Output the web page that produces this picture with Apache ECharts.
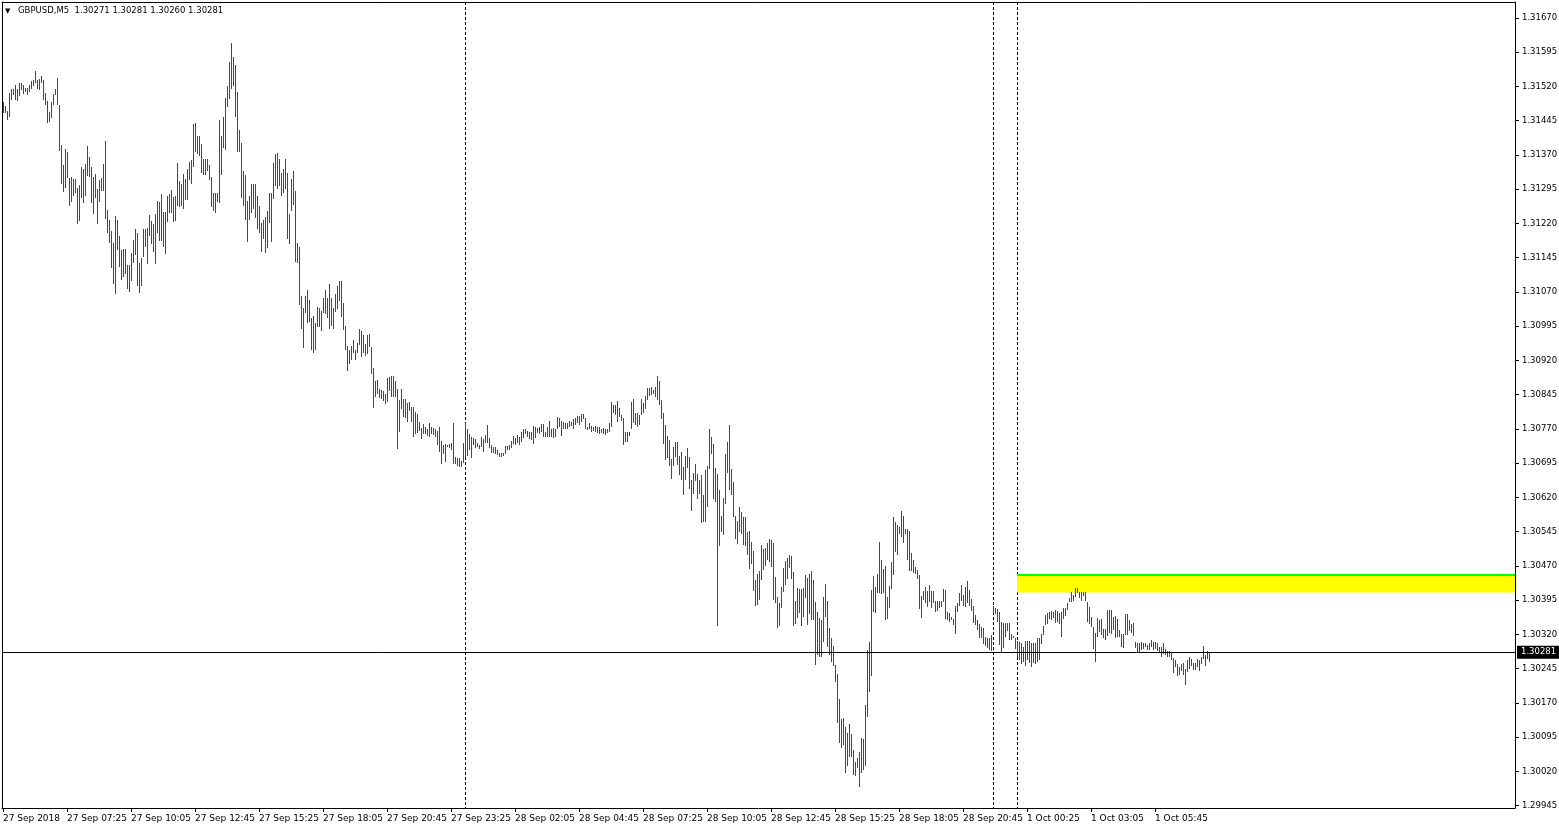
<!DOCTYPE html>
<html>
<head>
<meta charset="utf-8">
<style>
html,body{margin:0;padding:0;background:#fff;}
#chart{width:1559px;height:829px;}
</style>
<script src="https://cdn.jsdelivr.net/npm/echarts@6/dist/echarts.min.js"></script>
</head>
<body>
<div id="chart"></div>
<script>
// ---- data (GBPUSD M5, bar highs and lows) ----
const symbolName = 'GBPUSD,M5';
const lastOHLC = [1.30271, 1.30281, 1.30260, 1.30281];
const bidPrice = 1.30281;

const highs = [
1.31485,1.31477,1.31467,1.31506,1.31515,1.31515,1.31523,1.31514,1.31528,1.31528,1.31523,1.31517,1.31517,1.31523,1.31533,1.31534,
1.31554,1.31534,1.31536,1.31544,1.31534,1.31506,1.31489,1.31465,1.31487,1.31504,1.31515,1.31539,1.31479,1.31392,1.31347,1.31383,
1.31377,1.31320,1.31322,1.31317,1.31317,1.31298,1.31304,1.31344,1.31339,1.31350,1.31390,1.31366,1.31344,1.31321,1.31328,1.31296,
1.31315,1.31319,1.31350,1.31401,1.31250,1.31228,1.31204,1.31178,1.31236,1.31228,1.31193,1.31163,1.31164,1.31164,1.31129,1.31129,
1.31156,1.31184,1.31208,1.31200,1.31134,1.31144,1.31208,1.31209,1.31211,1.31239,1.31225,1.31219,1.31241,1.31269,1.31268,1.31285,
1.31245,1.31246,1.31281,1.31285,1.31293,1.31279,1.31281,1.31353,1.31314,1.31306,1.31328,1.31317,1.31339,1.31355,1.31358,1.31437,
1.31441,1.31412,1.31412,1.31394,1.31361,1.31361,1.31361,1.31348,1.31321,1.31287,1.31286,1.31287,1.31447,1.31412,1.31454,1.31494,
1.31522,1.31574,1.31616,1.31585,1.31566,1.31507,1.31425,1.31397,1.31335,1.31326,1.31269,1.31281,1.31306,1.31306,1.31306,1.31281,
1.31258,1.31222,1.31228,1.31235,1.31247,1.31287,1.31287,1.31353,1.31372,1.31374,1.31361,1.31331,1.31339,1.31361,1.31330,1.31241,
1.31317,1.31336,1.31292,1.31178,1.31169,1.31062,1.31034,1.31062,1.31074,1.31052,1.31014,1.31017,1.31001,1.31038,1.31034,1.31029,
1.31057,1.31074,1.31057,1.31087,1.31057,1.31036,1.31066,1.31082,1.31094,1.31094,1.31045,1.30996,1.30952,1.30943,1.30952,1.30964,
1.30944,1.30959,1.30988,1.30985,1.30976,1.30956,1.30976,1.30978,1.30949,1.30903,1.30875,1.30877,1.30857,1.30855,1.30853,1.30847,
1.30881,1.30883,1.30886,1.30886,1.30875,1.30857,1.30833,1.30857,1.30836,1.30836,1.30826,1.30828,1.30819,1.30819,1.30807,1.30803,
1.30786,1.30773,1.30781,1.30775,1.30771,1.30784,1.30775,1.30773,1.30770,1.30766,1.30775,1.30744,1.30736,1.30737,1.30736,1.30737,
1.30739,1.30784,1.30709,1.30706,1.30707,1.30700,1.30740,1.30782,1.30770,1.30758,1.30753,1.30750,1.30747,1.30739,1.30736,1.30752,
1.30747,1.30757,1.30779,1.30750,1.30736,1.30730,1.30731,1.30725,1.30718,1.30717,1.30718,1.30733,1.30733,1.30735,1.30744,1.30755,
1.30750,1.30757,1.30753,1.30764,1.30769,1.30771,1.30766,1.30764,1.30764,1.30777,1.30775,1.30773,1.30775,1.30780,1.30780,1.30764,
1.30775,1.30787,1.30771,1.30773,1.30769,1.30797,1.30793,1.30788,1.30786,1.30782,1.30782,1.30788,1.30786,1.30791,1.30793,1.30798,
1.30798,1.30802,1.30803,1.30793,1.30775,1.30782,1.30777,1.30775,1.30777,1.30775,1.30774,1.30771,1.30773,1.30769,1.30771,1.30782,
1.30828,1.30823,1.30823,1.30832,1.30815,1.30801,1.30793,1.30764,1.30764,1.30764,1.30828,1.30835,1.30804,1.30804,1.30801,1.30835,
1.30827,1.30842,1.30859,1.30859,1.30863,1.30855,1.30863,1.30886,1.30876,1.30833,1.30806,1.30779,1.30755,1.30746,1.30704,1.30730,
1.30742,1.30742,1.30711,1.30720,1.30687,1.30711,1.30728,1.30708,1.30658,1.30673,1.30693,1.30671,1.30658,1.30669,1.30625,1.30680,
1.30689,1.30769,1.30753,1.30737,1.30685,1.30671,1.30636,1.30579,1.30619,1.30715,1.30742,1.30779,1.30682,1.30653,1.30580,1.30569,
1.30600,1.30589,1.30578,1.30578,1.30545,1.30547,1.30522,1.30503,1.30439,1.30452,1.30459,1.30516,1.30507,1.30510,1.30520,1.30529,
1.30527,1.30520,1.30445,1.30401,1.30390,1.30423,1.30465,1.30481,1.30488,1.30494,1.30492,1.30457,1.30394,1.30421,1.30419,1.30420,
1.30421,1.30450,1.30443,1.30452,1.30459,1.30439,1.30392,1.30370,1.30357,1.30352,1.30403,1.30430,1.30394,1.30335,1.30313,1.30295,
1.30253,1.30233,1.30179,1.30135,1.30136,1.30118,1.30104,1.30125,1.30101,1.30067,1.30040,1.30049,1.30063,1.30094,1.30091,1.30166,
1.30286,1.30304,1.30417,1.30448,1.30423,1.30452,1.30523,1.30483,1.30463,1.30470,1.30403,1.30426,1.30479,1.30578,1.30567,1.30560,
1.30555,1.30590,1.30579,1.30550,1.30552,1.30547,1.30498,1.30483,1.30468,1.30461,1.30450,1.30404,1.30416,1.30423,1.30416,1.30428,
1.30416,1.30416,1.30394,1.30394,1.30394,1.30394,1.30420,1.30417,1.30370,1.30366,1.30359,1.30354,1.30382,1.30388,1.30410,1.30428,
1.30406,1.30423,1.30437,1.30417,1.30397,1.30382,1.30363,1.30351,1.30342,1.30336,1.30335,1.30315,1.30313,1.30313,1.30319,1.30382,
1.30379,1.30375,1.30370,1.30348,1.30346,1.30346,1.30346,1.30346,1.30321,1.30317,1.30312,1.30306,1.30304,1.30301,1.30292,1.30306,
1.30306,1.30306,1.30301,1.30301,1.30301,1.30312,1.30312,1.30321,1.30339,1.30363,1.30368,1.30370,1.30371,1.30370,1.30374,1.30371,
1.30368,1.30370,1.30379,1.30379,1.30388,1.30399,1.30414,1.30406,1.30421,1.30422,1.30412,1.30414,1.30414,1.30414,1.30392,1.30381,
1.30358,1.30337,1.30323,1.30355,1.30352,1.30353,1.30331,1.30331,1.30374,1.30374,1.30374,1.30359,1.30360,1.30353,1.30330,1.30321,
1.30321,1.30365,1.30365,1.30352,1.30343,1.30346,1.30304,1.30301,1.30301,1.30304,1.30301,1.30302,1.30297,1.30301,1.30308,1.30304,
1.30304,1.30302,1.30292,1.30293,1.30302,1.30288,1.30284,1.30284,1.30280,1.30268,1.30264,1.30255,1.30248,1.30255,1.30257,1.30244,
1.30264,1.30270,1.30266,1.30257,1.30257,1.30266,1.30263,1.30271,1.30295,1.30275,1.30284,1.30281
];

const lows = [
1.31463,1.31463,1.31447,1.31454,1.31490,1.31501,1.31490,1.31488,1.31499,1.31512,1.31504,1.31507,1.31501,1.31507,1.31515,1.31520,
1.31528,1.31515,1.31512,1.31527,1.31490,1.31479,1.31441,1.31443,1.31452,1.31479,1.31501,1.31479,1.31379,1.31306,1.31290,1.31298,
1.31319,1.31259,1.31268,1.31281,1.31287,1.31218,1.31226,1.31275,1.31264,1.31281,1.31324,1.31322,1.31264,1.31240,1.31275,1.31218,
1.31268,1.31292,1.31292,1.31229,1.31199,1.31177,1.31122,1.31087,1.31065,1.31163,1.31125,1.31096,1.31103,1.31109,1.31076,1.31069,
1.31095,1.31133,1.31151,1.31084,1.31067,1.31084,1.31147,1.31169,1.31131,1.31193,1.31174,1.31157,1.31131,1.31199,1.31182,1.31182,
1.31168,1.31153,1.31224,1.31244,1.31242,1.31224,1.31226,1.31259,1.31255,1.31259,1.31251,1.31271,1.31271,1.31315,1.31306,1.31344,
1.31376,1.31372,1.31368,1.31330,1.31326,1.31326,1.31335,1.31315,1.31255,1.31248,1.31244,1.31266,1.31264,1.31326,1.31385,1.31382,
1.31476,1.31493,1.31515,1.31522,1.31454,1.31377,1.31376,1.31276,1.31259,1.31228,1.31179,1.31228,1.31244,1.31252,1.31231,1.31209,
1.31200,1.31158,1.31186,1.31155,1.31167,1.31222,1.31180,1.31273,1.31303,1.31295,1.31301,1.31281,1.31286,1.31295,1.31185,1.31175,
1.31248,1.31260,1.31136,1.31133,1.31042,1.30989,1.30948,1.31023,1.31003,1.31005,1.30943,1.30936,1.30944,1.30994,1.30994,1.30985,
1.31023,1.31021,1.31012,1.30988,1.30996,1.30988,1.31027,1.31032,1.31051,1.31016,1.30987,1.30943,1.30896,1.30912,1.30921,1.30936,
1.30920,1.30936,1.30954,1.30927,1.30937,1.30930,1.30934,1.30949,1.30890,1.30815,1.30839,1.30846,1.30837,1.30835,1.30832,1.30824,
1.30828,1.30853,1.30841,1.30841,1.30841,1.30726,1.30764,1.30814,1.30796,1.30795,1.30786,1.30809,1.30785,1.30753,1.30758,1.30761,
1.30766,1.30748,1.30758,1.30759,1.30755,1.30753,1.30759,1.30757,1.30753,1.30736,1.30720,1.30693,1.30715,1.30698,1.30730,1.30728,
1.30724,1.30693,1.30693,1.30689,1.30687,1.30687,1.30695,1.30709,1.30711,1.30724,1.30706,1.30735,1.30728,1.30731,1.30727,1.30730,
1.30720,1.30739,1.30740,1.30728,1.30718,1.30717,1.30715,1.30713,1.30709,1.30709,1.30711,1.30715,1.30724,1.30725,1.30728,1.30737,
1.30735,1.30740,1.30735,1.30742,1.30750,1.30759,1.30752,1.30747,1.30746,1.30737,1.30750,1.30761,1.30759,1.30764,1.30752,1.30752,
1.30752,1.30752,1.30752,1.30750,1.30752,1.30769,1.30775,1.30755,1.30769,1.30769,1.30771,1.30775,1.30777,1.30769,1.30779,1.30782,
1.30779,1.30786,1.30791,1.30769,1.30768,1.30769,1.30764,1.30766,1.30764,1.30762,1.30759,1.30762,1.30759,1.30757,1.30761,1.30764,
1.30775,1.30804,1.30801,1.30786,1.30797,1.30787,1.30735,1.30742,1.30742,1.30755,1.30769,1.30782,1.30779,1.30775,1.30779,1.30801,
1.30805,1.30813,1.30833,1.30842,1.30844,1.30846,1.30841,1.30833,1.30823,1.30791,1.30738,1.30701,1.30706,1.30689,1.30660,1.30689,
1.30708,1.30691,1.30669,1.30658,1.30625,1.30658,1.30684,1.30639,1.30590,1.30628,1.30657,1.30617,1.30627,1.30565,1.30566,1.30567,
1.30600,1.30682,1.30715,1.30617,1.30611,1.30339,1.30514,1.30544,1.30538,1.30606,1.30674,1.30636,1.30625,1.30577,1.30529,1.30518,
1.30545,1.30540,1.30516,1.30514,1.30494,1.30463,1.30474,1.30416,1.30383,1.30385,1.30395,1.30439,1.30461,1.30471,1.30483,1.30478,
1.30468,1.30395,1.30388,1.30335,1.30339,1.30379,1.30414,1.30428,1.30441,1.30465,1.30441,1.30339,1.30344,1.30355,1.30366,1.30339,
1.30358,1.30399,1.30341,1.30365,1.30352,1.30352,1.30253,1.30275,1.30271,1.30271,1.30304,1.30358,1.30293,1.30274,1.30260,1.30252,
1.30217,1.30127,1.30082,1.30071,1.30078,1.30016,1.30033,1.30052,1.30052,1.30012,1.30009,1.30028,1.29987,1.30016,1.30023,1.30033,
1.30140,1.30195,1.30228,1.30369,1.30368,1.30410,1.30411,1.30409,1.30410,1.30352,1.30353,1.30379,1.30419,1.30450,1.30500,1.30495,
1.30540,1.30533,1.30520,1.30540,1.30482,1.30459,1.30460,1.30455,1.30452,1.30441,1.30376,1.30357,1.30395,1.30390,1.30381,1.30392,
1.30379,1.30390,1.30369,1.30371,1.30379,1.30381,1.30392,1.30354,1.30352,1.30347,1.30352,1.30341,1.30321,1.30369,1.30382,1.30394,
1.30382,1.30381,1.30389,1.30382,1.30371,1.30346,1.30341,1.30330,1.30313,1.30312,1.30300,1.30294,1.30290,1.30285,1.30283,1.30368,
1.30365,1.30348,1.30297,1.30280,1.30290,1.30315,1.30328,1.30308,1.30308,1.30312,1.30288,1.30270,1.30264,1.30255,1.30260,1.30251,
1.30263,1.30257,1.30249,1.30257,1.30255,1.30260,1.30264,1.30299,1.30319,1.30341,1.30343,1.30353,1.30352,1.30355,1.30346,1.30348,
1.30344,1.30315,1.30353,1.30360,1.30374,1.30392,1.30392,1.30394,1.30403,1.30410,1.30399,1.30394,1.30404,1.30394,1.30348,1.30344,
1.30337,1.30288,1.30260,1.30314,1.30326,1.30319,1.30312,1.30308,1.30317,1.30324,1.30321,1.30330,1.30312,1.30314,1.30314,1.30293,
1.30290,1.30319,1.30319,1.30328,1.30324,1.30317,1.30290,1.30279,1.30282,1.30286,1.30288,1.30292,1.30286,1.30286,1.30292,1.30286,
1.30288,1.30284,1.30279,1.30270,1.30277,1.30275,1.30270,1.30271,1.30264,1.30236,1.30248,1.30228,1.30231,1.30241,1.30231,1.30209,
1.30238,1.30244,1.30251,1.30242,1.30242,1.30248,1.30241,1.30255,1.30266,1.30251,1.30266,1.30260
];

// time axis labels (bar index where each label sits, and its text)
const xTickBars = [0,32,64,96,128,160,192,224,256,288,320,352,384,416,448,480,512,544,576];
const xTickLabels = ['27 Sep 2018','27 Sep 07:25','27 Sep 10:05','27 Sep 12:45','27 Sep 15:25','27 Sep 18:05',
  '27 Sep 20:45','27 Sep 23:25','28 Sep 02:05','28 Sep 04:45','28 Sep 07:25','28 Sep 10:05','28 Sep 12:45',
  '28 Sep 15:25','28 Sep 18:05','28 Sep 20:45','1 Oct 00:25','1 Oct 03:05','1 Oct 05:45'];
// price axis labels
const yTickValues = [1.29945,1.30020,1.30095,1.30170,1.30245,1.30320,1.30395,1.30470,1.30545,1.30620,1.30695,
  1.30770,1.30845,1.30920,1.30995,1.31070,1.31145,1.31220,1.31295,1.31370,1.31445,1.31520,1.31595,1.31670];
// period separators (bar indices) and supply zone
const separatorBars = [231, 495, 507];
const zoneStartBar = 507;
const zoneTop = 1.30450;
const zoneBottom = 1.30412;

// ---- chart ----
const X_MIN = -0.5, X_MAX = 756;
const Y_MIN = 1.29940, Y_MAX = 1.31705;
const FONT = 'DejaVu Sans';
const barData = highs.map((h, i) => [i, h, lows[i]]);

const chart = echarts.init(document.getElementById('chart'), null, {renderer: 'canvas'});
chart.setOption({
  animation: false,
  backgroundColor: '#ffffff',
  grid: {left: 2, top: 2, right: 44, bottom: 21, containLabel: false, outerBoundsMode: 'none'},
  graphic: [
    {type: 'text', left: 5, top: 8, style: {text: '▼', font: '7px ' + FONT, fill: '#000'}},
    {type: 'text', left: 18, top: 6, style: {
      text: symbolName + '  ' + lastOHLC.map(v => v.toFixed(5)).join(' '),
      font: '8.5px ' + FONT, fill: '#000'}}
  ],
  xAxis: [
    {type: 'value', position: 'bottom', min: X_MIN, max: X_MAX,
     axisLine: {show: true, onZero: false, lineStyle: {color: '#000', width: 1}},
     axisTick: {show: true, length: 4, lineStyle: {color: '#000'}, customValues: xTickBars},
     axisLabel: {show: true, customValues: xTickBars, align: 'left', margin: 6,
       color: '#000', fontFamily: FONT, fontSize: 9,
       formatter: v => xTickLabels[xTickBars.indexOf(Math.round(v))] || ''},
     splitLine: {show: false}},
    {type: 'value', position: 'top', min: X_MIN, max: X_MAX,
     axisLine: {show: true, onZero: false, lineStyle: {color: '#000', width: 1}},
     axisTick: {show: false, customValues: separatorBars},
     axisLabel: {show: false},
     splitLine: {show: true, lineStyle: {color: '#000', width: 1, type: [3, 2]}}}
  ],
  yAxis: [
    {type: 'value', position: 'right', min: Y_MIN, max: Y_MAX, scale: true,
     axisLine: {show: true, onZero: false, lineStyle: {color: '#000', width: 1}},
     axisTick: {show: true, length: 4, lineStyle: {color: '#000'}, customValues: yTickValues},
     axisLabel: {show: true, customValues: yTickValues, margin: 7, color: '#000',
       padding: [4, 0, 0, 0],
       fontFamily: FONT, fontSize: 8.5, formatter: v => v.toFixed(5)},
     splitLine: {show: false}},
    {type: 'value', position: 'left', min: Y_MIN, max: Y_MAX, scale: true,
     axisLine: {show: true, onZero: false, lineStyle: {color: '#000', width: 1}},
     axisTick: {show: false}, axisLabel: {show: false}, splitLine: {show: false}}
  ],
  series: [
    {
      type: 'line', data: [], z: 1, silent: true,
      markArea: {silent: true, itemStyle: {color: '#ffff00', opacity: 1},
        data: [[{coord: [zoneStartBar, zoneTop]}, {coord: [X_MAX, zoneBottom]}]]}
    },
    {
      type: 'custom', z: 2, silent: true, clip: true,
      data: barData,
      encode: {x: 0, y: [1, 2]},
      renderItem: function (params, api) {
        const i = api.value(0);
        const pHi = api.coord([i, api.value(1)]);
        const pLo = api.coord([i, api.value(2)]);
        const x = Math.round(pHi[0]);
        const y0 = Math.round(pHi[1]);
        const y1 = Math.round(pLo[1]);
        return {type: 'rect', shape: {x: x, y: y0, width: 1, height: Math.max(1, y1 - y0)},
          style: {fill: '#ee0000'}};
      }
    },
    {
      type: 'line', data: [], z: 3, silent: true,
      markLine: {
        silent: true, symbol: ['none', 'none'], animation: false, precision: 5,
        data: [
          [{coord: [X_MIN, bidPrice],
            lineStyle: {color: '#000', width: 1, type: 'solid'},
            label: {show: true, position: 'end', distance: 2, formatter: bidPrice.toFixed(5),
              color: '#fff', backgroundColor: '#000', padding: [3, 4, 1, 4],
              fontFamily: FONT, fontSize: 8.5}},
           {coord: [X_MAX, bidPrice]}],
          [{coord: [zoneStartBar, zoneTop], lineStyle: {color: '#00ff00', width: 2, type: 'solid'},
            label: {show: false}},
           {coord: [X_MAX, zoneTop]}]
        ]
      }
    }
  ]
});
</script>
</body>
</html>
